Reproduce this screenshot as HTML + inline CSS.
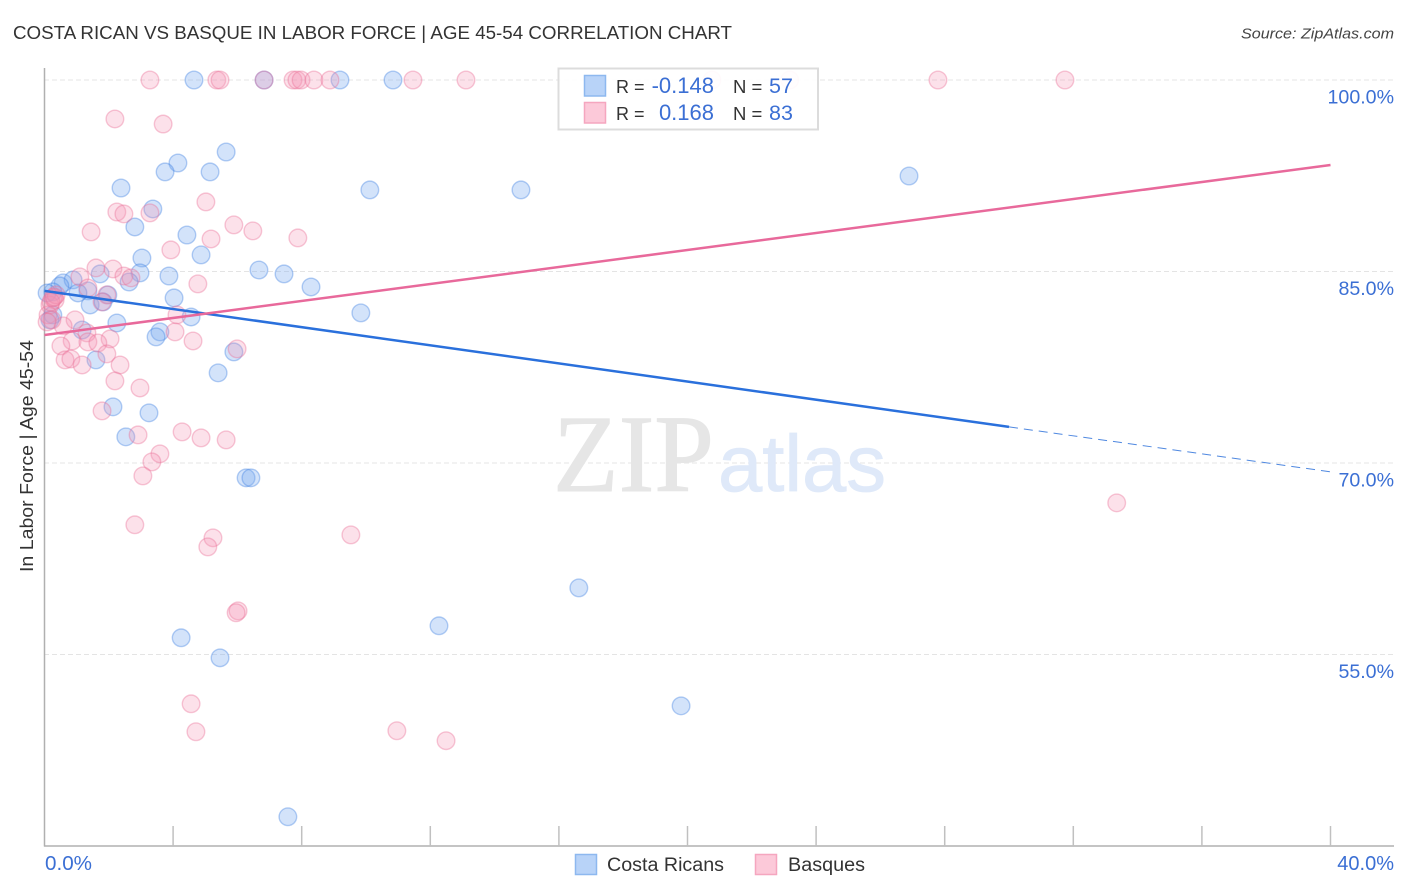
<!DOCTYPE html>
<html lang="en">
<head>
<meta charset="utf-8">
<title>Costa Rican vs Basque in Labor Force | Age 45-54 Correlation Chart</title>
<style>
html,body{margin:0;padding:0;background:#fff;}
svg{display:block;font-family:"Liberation Sans",sans-serif;}
</style>
</head>
<body>
<svg id="chart" xmlns="http://www.w3.org/2000/svg" width="1406" height="892" viewBox="0 0 1406 892">
  <rect x="0" y="0" width="1406" height="892" fill="#fff"/>
  <text x="13" y="39" font-size="18.5" fill="#333" textLength="719" lengthAdjust="spacingAndGlyphs">COSTA RICAN VS BASQUE IN LABOR FORCE | AGE 45-54 CORRELATION CHART</text>
  <text x="1394" y="38.5" font-size="15" font-style="italic" fill="#444" text-anchor="end" textLength="153" lengthAdjust="spacingAndGlyphs">Source: ZipAtlas.com</text>
  <g id="grid"></g>
  <text x="553" y="491" font-family="'Liberation Serif',serif" font-size="110" fill="#e6e6e6" stroke="#e6e6e6" stroke-width="1" textLength="161" lengthAdjust="spacingAndGlyphs">ZIP</text>
  <text x="718" y="491" font-size="80" fill="#dfe9f9" stroke="#dfe9f9" stroke-width="0.8" textLength="168" lengthAdjust="spacingAndGlyphs">atlas</text>
  <g id="axes"></g>
  <g id="points"></g>
  <g id="trends"></g>
  <text transform="translate(33,456) rotate(-90)" font-size="18" fill="#333" text-anchor="middle" textLength="232" lengthAdjust="spacingAndGlyphs">In Labor Force | Age 45-54</text>

  <g>
    <rect x="558.5" y="68.5" width="259.5" height="61" fill="#fff" fill-opacity="0.92" stroke="#dcdcdc" stroke-width="2"/>
    <rect x="584.5" y="75.5" width="21" height="20.5" fill="#b8d3f8" stroke="#8db8ef" stroke-width="1.5"/>
    <rect x="584.5" y="102.5" width="21" height="20.5" fill="#fcc9d9" stroke="#f5a6bf" stroke-width="1.5"/>
    <text x="616" y="93" font-size="18" fill="#333">R =</text>
    <text x="714" y="93" font-size="22" fill="#3b6fd4" text-anchor="end">-0.148</text>
    <text x="733" y="93" font-size="18.5" fill="#333">N =</text>
    <text x="769" y="93" font-size="21.5" fill="#3b6fd4">57</text>
    <text x="616" y="120" font-size="18" fill="#333">R =</text>
    <text x="714" y="120" font-size="22" fill="#3b6fd4" text-anchor="end">0.168</text>
    <text x="733" y="120" font-size="18.5" fill="#333">N =</text>
    <text x="769" y="120" font-size="21.5" fill="#3b6fd4">83</text>
  </g>

  <g>
    <rect x="575.5" y="854.5" width="21" height="20" fill="#b8d3f8" stroke="#8db8ef" stroke-width="1.5"/>
    <text x="607" y="871" font-size="19" fill="#333" textLength="117" lengthAdjust="spacingAndGlyphs">Costa Ricans</text>
    <rect x="755.5" y="854.5" width="21" height="20" fill="#fcc9d9" stroke="#f5a6bf" stroke-width="1.5"/>
    <text x="788" y="871" font-size="19" fill="#333" textLength="77" lengthAdjust="spacingAndGlyphs">Basques</text>
  </g>
</svg>
<script>
// Chart data: x = Costa Rican / Basque share (%), y = in labor force, age 45-54 (%)
const xTicks = [0, 4, 8, 12, 16, 20, 24, 28, 32, 36, 40];
const xEndLabels = ["0.0%", "40.0%"];
const yTicks = [100, 85, 70, 55];
const yTickLabels = ["100.0%", "85.0%", "70.0%", "55.0%"];

const costaRicanX = [4.65,6.83,9.19,10.84,5.65,4.15,3.75,5.15,2.38,10.12,14.82,26.89,3.37,2.81,4.43,4.87,3.03,6.67,7.45,2.97,3.87,1.73,8.29,0.58,0.89,0.48,0.26,1.35,1.97,2.63,4.03,1.42,1.82,9.84,4.56,2.25,1.17,3.59,3.47,5.89,1.60,5.40,2.13,3.25,2.53,6.27,6.42,16.62,12.27,4.25,5.46,19.80,7.57,0.08,0.26,0.17,1.04];
const costaRicanY = [100,100,100,100,94.36,93.50,92.80,92.80,91.54,91.39,91.39,92.48,89.90,88.49,87.86,86.30,86.06,85.12,84.81,84.89,84.65,84.81,83.79,84.11,84.34,83.87,83.40,83.48,83.17,84.18,82.93,82.38,82.62,81.76,81.44,80.97,80.42,80.27,79.88,78.70,78.08,77.06,74.40,73.93,72.05,68.84,68.84,60.22,57.25,56.31,54.74,50.98,42.29,83.32,81.60,81.21,83.32];

const basqueX = [3.28,5.36,5.46,6.83,7.73,7.85,7.98,8.38,8.88,11.46,13.11,20.76,23.18,27.79,31.74,2.19,3.69,5.02,2.25,2.47,3.28,5.89,6.48,7.88,5.18,1.45,3.93,1.60,2.13,2.47,2.69,1.10,4.77,1.35,1.94,1.79,4.12,0.95,0.58,4.06,4.62,5.99,2.04,1.32,0.86,1.35,1.66,0.51,1.94,0.64,0.82,1.17,2.35,2.19,2.97,1.79,2.91,4.28,4.87,5.65,3.59,3.34,3.06,2.81,5.24,5.08,9.53,6.02,5.96,4.56,4.71,10.96,12.49,33.35,0.33,0.17,0.26,0.36,0.11,0.23,0.08,0.20,0.30];
const basqueY = [100,100,100,100,100,100,100,100,100,100,100,100,100,100,100,96.95,96.55,90.45,89.66,89.51,89.59,88.65,88.18,87.63,87.55,88.10,86.69,85.28,85.20,84.65,84.50,84.58,84.03,83.71,83.17,82.62,81.60,81.21,80.74,80.27,79.56,78.94,79.72,80.19,79.56,79.49,79.40,79.17,78.55,78.08,78.15,77.68,77.68,76.43,75.88,74.08,72.20,72.44,71.97,71.81,70.72,70.09,68.99,65.16,64.14,63.43,64.37,58.42,58.27,51.14,48.95,49.03,48.25,66.88,82.77,82.38,82.93,83.17,81.60,81.21,81.05,82.60,83.00];

const costaRicanTrendX = [0, 30, 40];
const costaRicanTrendY = [83.48, 72.83, 69.31];
const basqueTrendX = [0, 40];
const basqueTrendY = [80.03, 93.34];

const NS = "http://www.w3.org/2000/svg";
function xScale(v) { return 44.5 + v * 32.15; }
function yScale(v) { return 80 + (100 - v) * 12.767; }
function make(tag, attrs, parent) {
  const el = document.createElementNS(NS, tag);
  for (const k in attrs) el.setAttribute(k, attrs[k]);
  parent.appendChild(el);
  return el;
}

const grid = document.getElementById("grid");
const axes = document.getElementById("axes");
const pts = document.getElementById("points");
const trends = document.getElementById("trends");

yTicks.forEach(function (v, i) {
  const line = make("line", {x1: 44, x2: 1394, y1: yScale(v), y2: yScale(v), stroke: "#e4e4e4", "stroke-width": 1, "stroke-dasharray": "5 3"}, grid);
  
  
  const label = make("text", {x: 1394, y: yScale(v) + 23.5, "font-size": 19.6, fill: "#3b6fd4", "text-anchor": "end"}, axes);
  label.textContent = yTickLabels[i];
  
  
});

const yAxis = make("line", {x1: 44.5, x2: 44.5, y1: 68, y2: 846.5, stroke: "#b0b0b0", "stroke-width": 1.5}, axes);


const xAxis = make("line", {x1: 44, x2: 1394, y1: 846, y2: 846, stroke: "#b0b0b0", "stroke-width": 1.5}, axes);



xTicks.slice(1).forEach(function (v) {
  const tick = make("line", {x1: xScale(v), x2: xScale(v), y1: 826, y2: 846, stroke: "#c0c0c0", "stroke-width": 1.5}, axes);
  
  
});

const xLeft = make("text", {x: 45, y: 870, "font-size": 20, fill: "#3b6fd4", textLength: 47, lengthAdjust: "spacingAndGlyphs"}, axes);
xLeft.textContent = xEndLabels[0];


const xRight = make("text", {x: 1394, y: 870, "font-size": 20, fill: "#3b6fd4", "text-anchor": "end"}, axes);
xRight.textContent = xEndLabels[1];



costaRicanX.forEach(function (v, i) {
  const c = make("circle", {cx: xScale(v), cy: yScale(costaRicanY[i]), r: 8.8, fill: "#78aaf0", "fill-opacity": 0.33, stroke: "#3f82e2", "stroke-opacity": 0.38, "stroke-width": 1.4}, pts);
  
  
});
basqueX.forEach(function (v, i) {
  const c = make("circle", {cx: xScale(v), cy: yScale(basqueY[i]), r: 8.8, fill: "#f592b2", "fill-opacity": 0.28, stroke: "#ea6f97", "stroke-opacity": 0.38, "stroke-width": 1.4}, pts);
  
  
});

const blueSolid = make("line", {x1: xScale(costaRicanTrendX[0]), y1: yScale(costaRicanTrendY[0]), x2: xScale(costaRicanTrendX[1]), y2: yScale(costaRicanTrendY[1]), stroke: "#2a70dc", "stroke-width": 2.5}, trends);


const blueDash = make("line", {x1: xScale(costaRicanTrendX[1]), y1: yScale(costaRicanTrendY[1]), x2: xScale(costaRicanTrendX[2]), y2: yScale(costaRicanTrendY[2]), stroke: "#4f88e0", "stroke-width": 1, "stroke-dasharray": "9 6"}, trends);


const pinkSolid = make("line", {x1: xScale(basqueTrendX[0]), y1: yScale(basqueTrendY[0]), x2: xScale(basqueTrendX[1]), y2: yScale(basqueTrendY[1]), stroke: "#e8699b", "stroke-width": 2.5}, trends);


</script>
</body>
</html>
